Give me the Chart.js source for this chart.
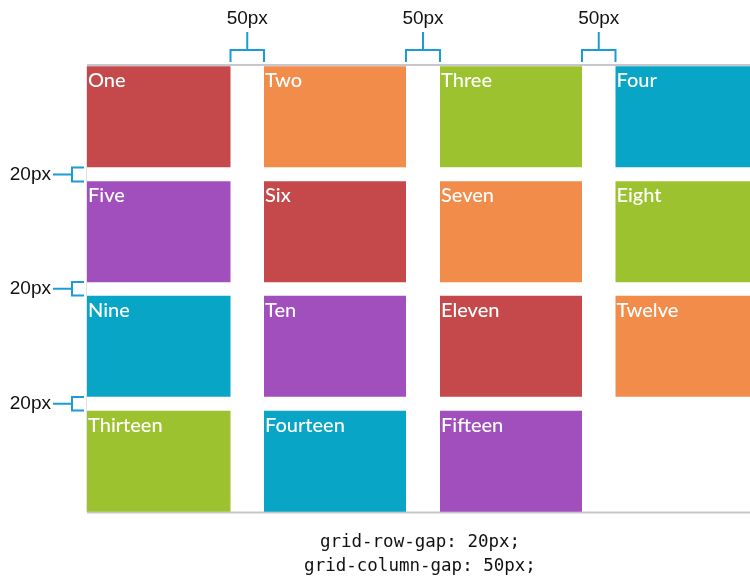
<!DOCTYPE html>
<html>
<head>
<meta charset="utf-8">
<script src="https://cdn.jsdelivr.net/npm/chart.js@4"></script>
<style>
  html, body { margin: 0; padding: 0; background: #ffffff; }
  #wrap { width: 750px; height: 579px; }
</style>
</head>
<body>
<div id="wrap"><canvas id="c" width="750" height="579"></canvas></div>
<script>
// Grid track intervals (in picture pixels, from the grid's top-left corner)
const columnStart = [0, 177, 353, 528.5];
const columnEnd   = [143.5, 319, 495, 700];
const rowTop      = [0, 115.5, 229.5, 344.5];
const rowBottom   = [101.5, 216, 331, 446];

// Cell labels, row by row
const row1Labels = ['One', 'Two', 'Three', 'Four'];
const row2Labels = ['Five', 'Six', 'Seven', 'Eight'];
const row3Labels = ['Nine', 'Ten', 'Eleven', 'Twelve'];
const row4Labels = ['Thirteen', 'Fourteen', 'Fifteen'];

// Cell colours, row by row
const row1Colors = ['#c5494b', '#f28c4b', '#9cc32f', '#09a5c6'];
const row2Colors = ['#a24fbe', '#c5494b', '#f28c4b', '#9cc32f'];
const row3Colors = ['#09a5c6', '#a24fbe', '#c5494b', '#f28c4b'];
const row4Colors = ['#9cc32f', '#09a5c6', '#a24fbe'];

// Annotation texts
const columnGapLabel = '50px';
const rowGapLabel = '20px';
const codeLines = ['grid-row-gap: 20px;', 'grid-column-gap: 50px;'];

const rowLabels = [row1Labels, row2Labels, row3Labels, row4Labels];
const rowColors = [row1Colors, row2Colors, row3Colors, row4Colors];

const points = [], colors = [], texts = [];
rowLabels.forEach((labels, r) => {
  labels.forEach((lab, c) => {
    points.push({ x: [columnStart[c], columnEnd[c]], y: (rowTop[r] + rowBottom[r]) / 2 });
    colors.push(rowColors[r][c]);
    texts.push(lab);
  });
});

const BLUE = '#1a9dd6';

const decor = {
  id: 'decor',
  beforeDatasetsDraw(chart) {
    const { ctx, chartArea: a } = chart;
    ctx.save();
    ctx.fillStyle = '#c6c6cc';
    ctx.fillRect(a.left, a.top - 2, a.right - a.left, 2);
    ctx.fillRect(a.left, a.bottom - 0.5, a.right - a.left, 2);
    ctx.fillStyle = '#e2e2e6';
    ctx.fillRect(a.left - 1, a.top, 1, a.bottom - a.top);
    ctx.restore();
  },
  afterDatasetsDraw(chart) {
    const { ctx, chartArea: a } = chart;
    const xs = chart.scales.x, ys = chart.scales.y;
    const meta = chart.getDatasetMeta(0);
    ctx.save();
    // cell labels
    ctx.fillStyle = '#ffffff';
    ctx.font = '500 20px Lato';
    ctx.textAlign = 'left';
    ctx.textBaseline = 'alphabetic';
    meta.data.forEach((el, i) => {
      const p = el.getProps(['x', 'y', 'base', 'height'], true);
      const left = Math.min(p.x, p.base);
      const top = p.y - p.height / 2;
      ctx.fillText(texts[i], left + 1, top + 21);
    });

    // column gap brackets
    ctx.strokeStyle = BLUE;
    ctx.lineWidth = 2;
    ctx.fillStyle = '#111111';
    ctx.font = '19px "Liberation Sans", Arial, sans-serif';
    ctx.textAlign = 'center';
    for (let i = 0; i < columnStart.length - 1; i++) {
      const x1 = xs.getPixelForValue(columnEnd[i]);
      const x2 = xs.getPixelForValue(columnStart[i + 1]);
      const xm = (x1 + x2) / 2;
      const yb = a.top - 16;
      ctx.beginPath();
      ctx.moveTo(xm, 32); ctx.lineTo(xm, yb);
      ctx.moveTo(x1, a.top - 4); ctx.lineTo(x1, yb); ctx.lineTo(x2, yb); ctx.lineTo(x2, a.top - 4);
      ctx.stroke();
      ctx.fillText(columnGapLabel, xm, 24);
    }

    // row gap brackets
    ctx.textAlign = 'right';
    ctx.textBaseline = 'middle';
    for (let r = 0; r < rowTop.length - 1; r++) {
      const y1 = ys.getPixelForValue(rowBottom[r]);
      const y2 = ys.getPixelForValue(rowTop[r + 1]);
      const ym = (y1 + y2) / 2;
      const bx = a.left - 15;
      ctx.beginPath();
      ctx.moveTo(53, ym); ctx.lineTo(bx, ym);
      ctx.moveTo(a.left - 3, y1); ctx.lineTo(bx, y1); ctx.lineTo(bx, y2); ctx.lineTo(a.left - 3, y2);
      ctx.stroke();
      ctx.fillText(rowGapLabel, 51, ym);
    }

    // code caption
    ctx.textAlign = 'center';
    ctx.textBaseline = 'alphabetic';
    ctx.font = '17.5px "DejaVu Sans Mono", monospace';
    codeLines.forEach((t, i) => ctx.fillText(t, 420, 547 + i * 24));
    ctx.restore();
  }
};

new Chart(document.getElementById('c'), {
  type: 'bar',
  data: {
    datasets: [{
      data: points,
      backgroundColor: colors,
      borderWidth: 0,
      barThickness: 101,
      inflateAmount: 0
    }]
  },
  options: {
    indexAxis: 'y',
    responsive: false,
    animation: false,
    devicePixelRatio: 1,
    events: [],
    layout: { padding: { left: 87, right: 0, top: 66, bottom: 67 } },
    plugins: { legend: { display: false }, tooltip: { enabled: false } },
    scales: {
      x: { type: 'linear', min: 0, max: 663, offset: false, display: false },
      y: { type: 'linear', min: 0, max: 446, reverse: true, offset: false, display: false }
    }
  },
  plugins: [decor]
});
</script>
</body>
</html>
